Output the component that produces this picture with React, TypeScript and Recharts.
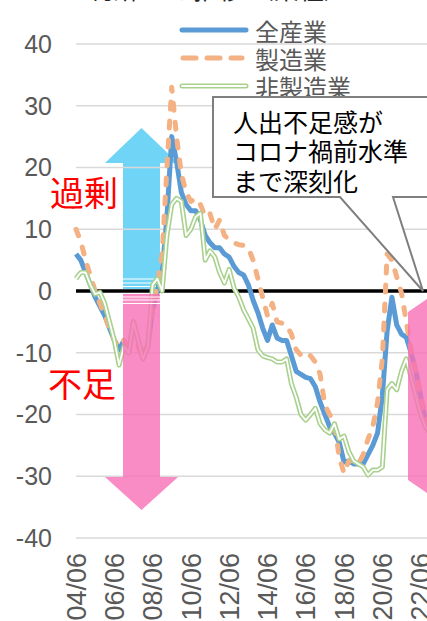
import { LineChart, Line, XAxis, YAxis, CartesianGrid, ReferenceLine } from 'recharts';

// quarterly categories (Tankan survey months)
const quarters = [
  '04/06', '04/09', '04/12', '05/03', '05/06', '05/09', '05/12', '06/03',
  '06/06', '06/09', '06/12', '07/03', '07/06', '07/09', '07/12', '08/03',
  '08/06', '08/09', '08/12', '09/03', '09/06', '09/09', '09/12', '10/03',
  '10/06', '10/09', '10/12', '11/03', '11/06', '11/09', '11/12', '12/03',
  '12/06', '12/09', '12/12', '13/03', '13/06', '13/09', '13/12', '14/03',
  '14/06', '14/09', '14/12', '15/03', '15/06', '15/09', '15/12', '16/03',
  '16/06', '16/09', '16/12', '17/03', '17/06', '17/09', '17/12', '18/03',
  '18/06', '18/09', '18/12', '19/03', '19/06', '19/09', '19/12', '20/03',
  '20/06', '20/09', '20/12', '21/03', '21/06', '21/09', '21/12', '22/03',
  '22/06', '22/09', '22/12', '23/03',
];

const xTickLabels = ['04/06', '06/06', '08/06', '10/06', '12/06', '14/06', '16/06', '18/06', '20/06', '22/06'];
const yTicks = [-40, -30, -20, -10, 0, 10, 20, 30, 40];

// 全産業
const allIndustries = [
  6, 5, 3, 1, -1, -2.5, -4, -6, -8, -9.5, -8, -10, -5, -8, -11, -9,
  -3, 0, 3, 12, 25, 21, 16, 14, 13, 13, 11.5, 9, 7.8, 7, 7, 6,
  5.5, 4, 3, 2.6, 1, -1.5, -3.5, -6, -8, -5.5, -7.6, -8, -8, -10.5, -13, -13.5,
  -14, -14.2, -15.5, -18, -20, -22, -23, -24.5, -27.7, -27.5, -28, -28, -28, -26.5, -25, -23,
  -17, -6.5, -1, -5.5, -7, -7.5, -10, -13, -17, -21, -22, -23,
];

// 製造業
const manufacturing = [
  10, 8, 5, 2.5, 0, -2, -4, -6, -8, -9, -8, -10, -6, -9, -11, -8,
  -3, 1, 6, 20, 33, 25, 19, 16, 14.5, 15, 14, 12, 12.5, 10, 11.5, 9,
  8.3, 7.8, 7.5, 7.4, 7, 5, 2, -1, -4, -2, -5, -5.2, -5.5, -7, -9.5, -10.4,
  -10, -10.5, -11.5, -13.5, -18.5, -20, -21.5, -27, -29.5, -27.5, -27.5, -28, -26.5, -24, -22, -18,
  -11, 6, 5, 2.3, -0.3, -5, -9.6, -13, -17, -20, -22, -24,
];

// 非製造業
const nonManufacturing = [
  2, 3, 3, 1, -0.5, -0.2, -2, -5, -8, -12, -9, -10, -5, -8, -11, -9,
  1, 2, 0, 9, 14, 15, 14.5, 9, 10, 12, 12.6, 5, 6.5, 5.5, 3, 1.3,
  3.5, 0.5, -1, -3, -4.5, -6, -9.5, -10.5, -10.8, -11, -11.5, -11.5, -11, -15, -17.2, -20,
  -20.9, -20, -19, -21.5, -22.5, -23, -21.5, -24, -23.5, -26, -27.5, -28, -28.5, -29.8, -29, -29,
  -28.5, -16, -15, -16, -13, -11, -14, -17, -20, -22, -23, -24,
];

const data = quarters.map((q, i) => ({
  q,
  all: allIndustries[i],
  mfg: manufacturing[i],
  nonMfg: nonManufacturing[i],
}));

const BLUE = '#5B9BD5';
const ORANGE = '#F4B183';
const GREEN = '#A9D18E';
const NUM_FONT = '"Liberation Sans", Arial, sans-serif';
const JP_FONT = '"Noto Sans CJK JP", "Noto Sans", sans-serif';

const XTick = ({ x, y, payload }: any) => {
  if (!xTickLabels.includes(payload.value)) return <g />;
  return (
    <g transform={`translate(${x},${y + 15})`}>
      <text
        transform="rotate(-90)"
        textAnchor="end"
        dy="0.36em"
        fontSize={27}
        fill="#595959"
        fontFamily={NUM_FONT}
      >
        {payload.value}
      </text>
    </g>
  );
};

export default function App() {
  return (
    <div
      style={{
        position: 'fixed',
        left: 0,
        top: 0,
        width: 427,
        height: 621,
        overflow: 'hidden',
        background: '#fff',
      }}
    >
      {/* cyan arrow sits behind the lines */}
      <svg width={427} height={621} style={{ position: 'absolute', left: 0, top: 0 }}>
        <polygon points="141.5,128 178,163 160,163 160,289 123,289 123,163 105,163" fill="#6FD4F5" />
        <line x1={123} x2={160} y1={279} y2={279} stroke="#fff" strokeWidth={1} />
        <line x1={123} x2={160} y1={283} y2={283} stroke="#fff" strokeWidth={1} />
        <line x1={123} x2={160} y1={286.5} y2={286.5} stroke="#fff" strokeWidth={1} />
      </svg>

      <div style={{ position: 'absolute', left: 0, top: 0 }}>
        <LineChart width={440} height={638} data={data} margin={{ top: 44, right: 5, bottom: 0, left: 16 }}>
          <CartesianGrid vertical={false} stroke="#D9D9D9" strokeWidth={1.5} />
          <XAxis
            dataKey="q"
            interval={0}
            axisLine={false}
            tickLine={false}
            tickSize={0}
            tickMargin={0}
            height={100}
            tick={<XTick />}
          />
          <YAxis
            type="number"
            domain={[-40, 40]}
            ticks={yTicks}
            interval={0}
            width={60}
            axisLine={false}
            tickLine={false}
            tickSize={0}
            tickMargin={24}
            tick={{ fontSize: 25, fill: '#595959', fontFamily: NUM_FONT }}
          />
          <ReferenceLine y={0} stroke="#000" strokeWidth={3.5} />
          <Line
            dataKey="all"
            stroke={BLUE}
            strokeWidth={5}
            strokeLinejoin="round"
            dot={false}
            isAnimationActive={false}
          />
          <Line
            dataKey="mfg"
            stroke={ORANGE}
            strokeWidth={5}
            strokeDasharray="7 12"
            strokeLinecap="round"
            strokeLinejoin="round"
            dot={false}
            isAnimationActive={false}
          />
          <Line
            dataKey="nonMfg"
            stroke={GREEN}
            strokeWidth={5}
            strokeLinejoin="round"
            dot={false}
            isAnimationActive={false}
          />
          <Line
            dataKey="nonMfg"
            stroke="#fff"
            strokeWidth={1.8}
            strokeLinejoin="round"
            dot={false}
            legendType="none"
            isAnimationActive={false}
          />
        </LineChart>
      </div>

      {/* annotations on top */}
      <svg width={427} height={621} style={{ position: 'absolute', left: 0, top: 0, pointerEvents: 'none' }}>
        {/* cut-off title */}
        <text x={88} y={-1} fontSize={25} fill="#262626" fontFamily={JP_FONT}>
          判断DI の推移 （業種）
        </text>

        {/* legend */}
        <line x1={182} x2={246} y1={30} y2={30} stroke={BLUE} strokeWidth={5} strokeLinecap="round" />
        <line x1={183} x2={242} y1={58} y2={58} stroke={ORANGE} strokeWidth={5} strokeDasharray="13 11" strokeLinecap="round" />
        <line x1={182} x2={246} y1={86} y2={86} stroke={GREEN} strokeWidth={5} strokeLinecap="round" />
        <line x1={182} x2={246} y1={86} y2={86} stroke="#fff" strokeWidth={1.8} strokeLinecap="round" />
        <g fontSize={24} fill="#595959" fontFamily={JP_FONT} dominantBaseline="central">
          <text x={255} y={30}>全産業</text>
          <text x={255} y={58}>製造業</text>
          <text x={255} y={86}>非製造業</text>
        </g>

        {/* pink arrows (semi-transparent) */}
        <g opacity={0.8}>
          <polygon points="123,294 160,294 160,477 178,477 141.5,510 105,477 123,477" fill="#F76FB5" />
          <polygon points="408,312 452,282 496,312 496,480 452,510 408,480" fill="#F76FB5" />
        </g>
        <line x1={123} x2={160} y1={297} y2={297} stroke="#fff" strokeWidth={1} />
        <line x1={123} x2={160} y1={300} y2={300} stroke="#fff" strokeWidth={1} />
        <line x1={123} x2={160} y1={303.5} y2={303.5} stroke="#fff" strokeWidth={1} />

        {/* red labels */}
        <g fontSize={34} fill="#FF0000" fontFamily={JP_FONT} dominantBaseline="central">
          <text x={50} y={191}>過剰</text>
          <text x={48} y={382}>不足</text>
        </g>

        {/* callout */}
        <path
          d="M213,97 L440,97 L440,197 L393,197 L423,291 L340,197 L213,197 Z"
          fill="#fff"
          stroke="#7F7F7F"
          strokeWidth={2}
          strokeLinejoin="miter"
        />
        <g fontSize={25} fill="#000" fontFamily={JP_FONT} dominantBaseline="central">
          <text x={233} y={121}>人出不足感が</text>
          <text x={233} y={150}>コロナ禍前水準</text>
          <text x={233} y={180}>まで深刻化</text>
        </g>
      </svg>
    </div>
  );
}
